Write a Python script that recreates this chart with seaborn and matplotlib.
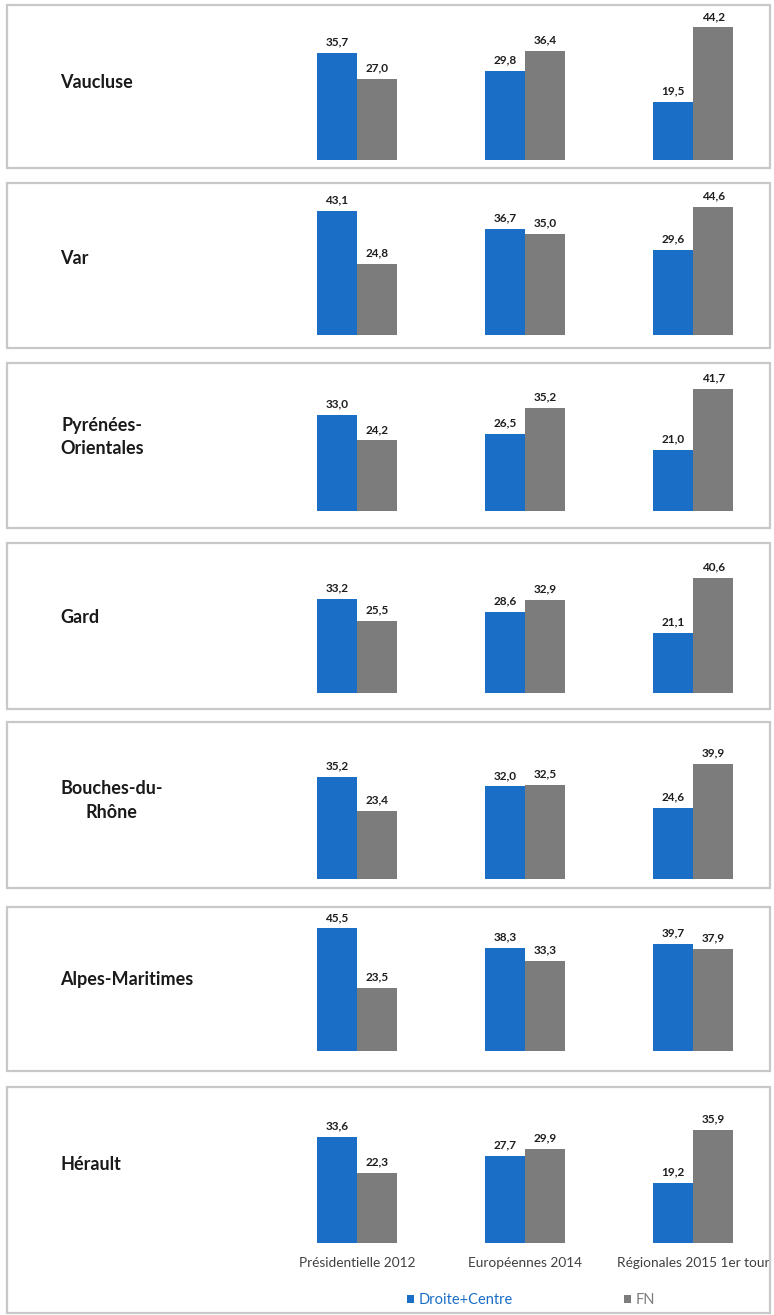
import matplotlib
matplotlib.use("Agg")
import matplotlib.pyplot as plt
from matplotlib.patches import Rectangle, Patch
import pandas as pd
import seaborn as sns

regions = ["Vaucluse", "Var", "Pyrénées-\nOrientales", "Gard",
           "Bouches-du-\nRhône", "Alpes-Maritimes", "Hérault"]
elections = ["Présidentielle 2012", "Européennes 2014", "Régionales 2015 1er tour"]
lists = ["Droite+Centre", "FN"]

droite = [
    [35.7, 29.8, 19.5],
    [43.1, 36.7, 29.6],
    [33.0, 26.5, 21.0],
    [33.2, 28.6, 21.1],
    [35.2, 32.0, 24.6],
    [45.5, 38.3, 39.7],
    [33.6, 27.7, 19.2],
]
fn = [
    [27.0, 36.4, 44.2],
    [24.8, 35.0, 44.6],
    [24.2, 35.2, 41.7],
    [25.5, 32.9, 40.6],
    [23.4, 32.5, 39.9],
    [23.5, 33.3, 37.9],
    [22.3, 29.9, 35.9],
]

colors = {"Droite+Centre": "#1a6ec6", "FN": "#7c7c7c"}

# layout in pixels (top, bottom of each box, bar baseline, y max)
box_top = [5, 183, 363, 543, 722, 907, 1087]
box_bot = [168, 348, 528, 709, 888, 1071, 1313]
baseline = [160, 335, 511, 693, 879, 1051, 1243]
ymax = [49, 50, 48, 50, 51.5, 50.5, 47]

W, H = 774, 1315
sns.set_style("white")
plt.rcParams["font.family"] = ["Lato", "DejaVu Sans"]
fig = plt.figure(figsize=(W / 100, H / 100), dpi=100)

ax_left, ax_right = 273, 769

for i, reg in enumerate(regions):
    # border box
    fig.patches.append(Rectangle((7 / W, 1 - box_bot[i] / H), (770 - 7) / W,
                                 (box_bot[i] - box_top[i]) / H,
                                 transform=fig.transFigure, fill=False,
                                 edgecolor="#c8c8c8", linewidth=1.6))
    top = box_top[i] + 8
    ax = fig.add_axes([ax_left / W, 1 - baseline[i] / H,
                       (ax_right - ax_left) / W, (baseline[i] - top) / H])
    df = pd.DataFrame({
        "Scrutin": elections * 2,
        "Liste": [lists[0]] * 3 + [lists[1]] * 3,
        "Score": droite[i] + fn[i],
    })
    sns.barplot(data=df, x="Scrutin", y="Score", hue="Liste", order=elections,
                hue_order=lists, palette=colors, width=0.476, gap=0,
                saturation=1, legend=False, linewidth=0, ax=ax)
    for cont in ax.containers:
        ax.bar_label(cont, labels=[f"{b.get_height():.1f}".replace(".", ",")
                                   for b in cont],
                     padding=4, fontsize=8.5, fontweight="bold", color="#1e1e1e")
    ax.set_xlim(-0.5, 2.45)
    ax.set_ylim(0, ymax[i])
    ax.set_yticks([])
    ax.set_xlabel("")
    ax.set_ylabel("")
    for s in ax.spines.values():
        s.set_visible(False)
    ax.patch.set_alpha(0)
    if i == len(regions) - 1:
        ax.tick_params(axis="x", length=0, pad=10, labelsize=9.8, labelcolor="#404040")
    else:
        ax.set_xticks([])
    # region name
    ly = (box_top[i] + baseline[i]) / 2
    fig.text(60 / W, 1 - ly / H, reg, ha="left", va="center",
             multialignment="center", fontsize=13, fontweight="bold",
             color="#1a1a1a", linespacing=1.45)

handles = [Patch(facecolor=colors[l], edgecolor="none") for l in lists]
leg = fig.legend(handles, lists, loc="center", bbox_to_anchor=(531 / W, 1 - 1300 / H),
                 ncol=2, frameon=False, fontsize=10.5, handlelength=0.5,
                 handleheight=0.5, handletextpad=0.3, columnspacing=7.6)
for t, l in zip(leg.get_texts(), lists):
    t.set_color(colors[l])

fig.savefig("out.png", dpi=100)
